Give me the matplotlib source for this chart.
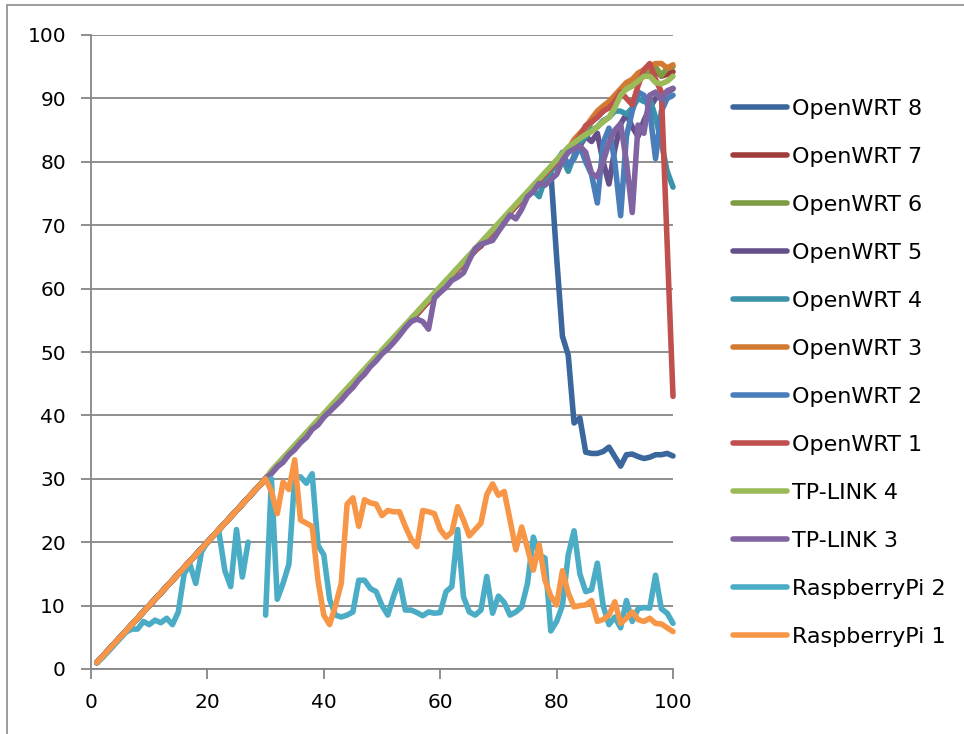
import numpy as np
import matplotlib
matplotlib.use("Agg")
import matplotlib.pyplot as plt
from matplotlib.lines import Line2D
from matplotlib.patches import Rectangle

plt.rcParams['font.family'] = ['DejaVu Sans']

x = list(range(1, 101))

openwrt8 = [1, 2, 3, 4, 5, 6, 7, 8, 9, 10,
            11, 12, 13, 14, 15, 16, 17, 18, 19, 20,
            21, 22, 23, 24, 25, 26, 27, 28, 29, 30,
            31, 32, 33, 34, 35, 36, 37, 38, 39, 40,
            41, 42, 43, 44, 45, 46, 47, 48, 49, 50,
            51, 52, 53, 54, 55, 56, 57, 58, 59, 60,
            61, 62, 63, 64, 65, 66, 67, 68, 69, 70,
            71, 72, 73, 74, 75, 76, 77, 78, 78.5, 65,
            52.5, 49.5, 38.8, 39.6, 34.2, 34, 34, 34.3, 35, 33.5,
            32, 33.8, 33.9, 33.5, 33.2, 33.4, 33.8, 33.8, 34, 33.6]

openwrt7 = [1, 2, 3, 4, 5, 6, 7, 8, 9, 10,
            11, 12, 13, 14, 15, 16, 17, 18, 19, 20,
            21, 22, 23, 24, 25, 26, 27, 28, 29, 30,
            31, 32, 33, 34, 35, 36, 37, 38, 39, 40,
            41, 42, 43, 44, 44.6, 46, 47, 48, 49, 50,
            51, 52, 53, 54, 55, 56, 57, 58, 59, 60,
            61, 62, 63, 64, 65, 66, 66.7, 68, 69, 70,
            71, 72, 73, 74, 75, 76, 77, 78, 79, 80,
            81, 82, 83, 84, 85, 86.3, 87.2, 88, 89, 90,
            91, 91.5, 92, 93, 93.5, 94, 94.5, 93.5, 93.8, 94.2]

openwrt6 = [1, 2, 3, 4, 5, 6, 7, 8, 9, 10,
            11, 12, 13, 14, 15, 16, 17, 18, 19, 20,
            21, 22, 23, 24, 25, 26, 27, 28, 29, 30,
            31, 32, 33, 34, 35, 36, 37, 38, 39, 40,
            41, 42, 43, 44, 45, 46, 47, 48, 49, 50,
            51, 52, 53, 54, 55, 56, 57, 58, 59, 60,
            61, 62, 63, 64, 65, 66, 67, 68, 69, 70,
            71, 72, 73, 74, 75, 76, 77, 78, 79, 80,
            81, 82, 83, 84, 85, 86.3, 87.2, 88, 89, 90.2,
            91.2, 92, 92.5, 93.5, 94, 94.6, 95, 93.6, 94.8, 95]

openwrt5 = [1, 2, 3, 4, 5, 6, 7, 8, 9, 10,
            11, 12, 13, 14, 15, 16, 17, 18, 19, 20,
            21, 22, 23, 24, 25, 26, 27, 28, 29, 30,
            31, 32, 33, 34, 35, 36, 37, 38, 39, 40,
            41, 42, 43, 44, 45, 46, 47, 48, 49, 50,
            51, 52, 53, 54, 55, 56, 57, 58, 59, 60,
            61, 62, 63, 64, 65, 66, 67, 68, 69, 70,
            71, 72, 73, 74, 75, 76, 77, 78, 79, 80,
            81, 82, 82.2, 82.5, 84, 83.2, 84.5, 80, 76.5, 82,
            86, 87.5, 85.5, 84, 86.5, 88.5, 90, 90.5, 91, 91.5]

openwrt4 = [1, 2, 3, 4, 5, 6, 7, 8, 9, 10,
            11, 12, 13, 14, 15, 16, 17, 18, 19, 20,
            21, 22, 23, 24, 25, 26, 27, 28, 29, 30,
            31, 32, 33, 34, 35, 36, 37, 38, 39, 40,
            41, 42, 43, 44, 45, 46, 47, 48, 49, 50,
            51, 52, 53, 54, 55, 56, 57, 58, 59, 60,
            61, 62, 63, 64, 65, 66, 67, 68, 69, 70,
            71, 72, 73, 74, 75, 75.5, 74.5, 77.3, 78.5, 79.5,
            80.5, 78.5, 81, 83, 84, 85, 85.5, 86.5, 87, 88,
            88, 87.5, 88.5, 90, 89.5, 90, 87, 83, 78.5, 76]

openwrt3 = [1, 2, 3, 4, 5, 6, 7, 8, 9, 10,
            11, 12, 13, 14, 15, 16, 17, 18, 19, 20,
            21, 22, 23, 24, 25, 26, 27, 28, 29, 30,
            31, 32, 33, 34, 35, 36, 37, 38, 39, 40,
            41, 42, 43, 44, 45, 46, 47, 48, 49, 50,
            51, 52, 53, 54, 55, 56, 57, 58, 59, 60,
            61, 62, 63, 64, 65, 66, 67, 68, 69, 70,
            71, 72, 73, 74, 75, 76, 77, 78, 79, 80,
            81, 82, 83.5, 84.5, 85.5, 86.8, 88, 88.8, 89.5, 90.5,
            91.5, 92.5, 93, 94, 94.5, 95, 95.5, 95.5, 94.8, 95.3]

openwrt2 = [1, 2, 3, 4, 5, 6, 7, 8, 9, 10,
            11, 12, 13, 14, 15, 16, 17, 18, 19, 20,
            21, 22, 23, 24, 25, 26, 27, 28, 29, 30,
            31, 32, 33, 34, 35, 36, 37, 38, 39, 40,
            41, 42, 43, 44, 45, 46, 47, 48, 49, 50,
            51, 52, 53, 54, 55, 56, 57, 58, 59, 60,
            61, 62, 63, 64, 65, 66, 67, 68, 69, 70,
            71, 72, 73, 74, 75, 76, 77, 78, 79, 80,
            81.5, 79.5, 80.5, 82.5, 80, 78, 73.5, 83, 85.3, 80,
            71.5, 84, 88, 91, 90.5, 88, 80.5, 88, 90, 90.5]

openwrt1 = [1, 2, 3, 4, 5, 6, 7, 8, 9, 10,
            11, 12, 13, 14, 15, 16, 17, 18, 19, 20,
            21, 22, 23, 24, 25, 26, 27, 28, 29, 30,
            31, 32, 33, 34, 35, 36, 37, 38, 39, 40,
            41, 42, 43, 44, 44.5, 46, 47, 48, 49, 50,
            51, 52, 53, 54, 55, 56, 57, 58, 59, 60,
            61, 62, 63, 64, 65, 66, 67, 68, 69, 70,
            71, 72, 73, 74, 75, 76, 77, 78, 79, 80,
            81, 82, 83, 84, 85.7, 86.3, 87, 88, 88.5, 89.5,
            91, 90, 89, 92, 94.5, 95.5, 93, 91, 67, 43]

tplink4 = [1, 2, 3, 4, 5, 6, 7, 8, 9, 10,
           11, 12, 13, 14, 15, 16, 17, 18, 19, 20,
           21, 22, 23, 24, 25, 26, 27, 28, 29, 30,
           31.3, 32.3, 33.3, 34.3, 35.3, 36.3, 37.3, 38.3, 39.3, 40.3,
           41.3, 42.3, 43.3, 44.3, 45.3, 46.3, 47.3, 48.3, 49.3, 50.3,
           51.3, 52.3, 53.3, 54.3, 55.3, 56.3, 57.3, 58.3, 59.3, 60.3,
           61.3, 62.3, 63.3, 64.3, 65.3, 66.3, 67.3, 68.3, 69.3, 70.3,
           71.3, 72.3, 73.3, 74.3, 75.3, 76.3, 77.3, 78.3, 79.3, 80.3,
           81.3, 82.3, 83, 83.7, 84.3, 84.8, 85.5, 86.3, 87, 88.5,
           90.5, 91.5, 92, 92.7, 93.5, 93.5, 92.5, 92.3, 92.7, 93.5]

tplink3 = [1, 2, 3, 4, 5, 6, 7, 8, 9, 10,
           11, 12, 13, 14, 15, 16, 17, 18, 19, 20,
           21, 22, 23, 24, 25, 26, 27, 28, 29, 30,
           30.8, 31.9, 32.6, 33.8, 34.6, 35.7, 36.5, 37.8, 38.5, 39.7,
           40.6, 41.5, 42.4, 43.5, 44.4, 45.6, 46.5, 47.7, 48.6, 49.7,
           50.5, 51.5, 52.6, 53.8, 54.8, 55.2, 54.8, 53.6, 58.5, 59.4,
           60.2, 61.3, 61.8, 62.5, 64.5, 66.3, 67, 67.3, 67.6, 69,
           70.3, 71.6, 71, 72.5, 74.5, 75.3, 76.6, 76.3, 77.2, 78,
           80.2, 81.5, 82, 82.5, 81.5, 78.2, 77.6, 80, 83, 85,
           86, 80, 72, 85.8, 84.5, 90.5, 91, 89.8, 91.2, 91.6]

nan = float('nan')
raspberry2 = [1, 1.8, 2.8, 3.8, 4.8, 5.8, 6.3, 6.3, 7.5, 7,
              7.7, 7.3, 8, 7, 9, 15, 16.5, 13.5, 18.5, 20,
              21, 21.5, 15.5, 13, 22, 14.5, 20, nan, nan, 8.5,
              30, 11, 13.5, 16.5, 30.3, 30.3, 29.3, 30.8, 19.5, 18,
              11, 8.5, 8.2, 8.5, 9, 14, 14, 12.7, 12.2, 10,
              8.5, 11.5, 14, 9.3, 9.3, 8.9, 8.4, 9, 8.8, 8.9,
              12.2, 13, 22, 11.4, 9, 8.5, 9.3, 14.6, 8.8, 11.5,
              10.5, 8.5, 9, 9.8, 13.5, 20.8, 18, 17.5, 6, 7.5,
              10, 18, 21.8, 15, 12.2, 12.5, 16.7, 10, 7, 8.2,
              6.5, 10.8, 7.5, 9.5, 9.7, 9.6, 14.8, 9.5, 8.8, 7.2]

raspberry1 = [1, 2, 3, 4, 5, 6, 7, 8, 9, 10,
              11, 12, 13, 14, 15, 16, 17, 18, 19, 20,
              21, 22, 23, 24, 25, 26, 27, 28, 29, 30,
              28, 24.5, 29.5, 28.3, 33, 23.5, 23, 22.5, 14, 8.5,
              7, 10, 13.5, 26, 27, 22.5, 26.7, 26.2, 26, 24.2,
              25, 24.8, 24.8, 22.5, 20.5, 19.3, 25, 24.8, 24.5, 22,
              20.8, 21.6, 25.6, 23.5, 21, 22, 23, 27.5, 29.2, 27.4,
              28, 23.5, 18.8, 22.4, 19, 15.6, 19.6, 14, 11.5, 10.1,
              15.5, 12, 9.8, 10, 10.1, 10.8, 7.5, 7.8, 8.5, 10.6,
              7.2, 8, 9, 7.8, 7.5, 8, 7.2, 7.1, 6.5, 5.9]

# legend order (top to bottom)
labels = ["OpenWRT 8", "OpenWRT 7", "OpenWRT 6", "OpenWRT 5", "OpenWRT 4",
          "OpenWRT 3", "OpenWRT 2", "OpenWRT 1", "TP-LINK 4", "TP-LINK 3",
          "RaspberryPi 2", "RaspberryPi 1"]
series = [openwrt8, openwrt7, openwrt6, openwrt5, openwrt4, openwrt3,
          openwrt2, openwrt1, tplink4, tplink3, raspberry2, raspberry1]
colors = ["#3B679D", "#A03D3A", "#7E9C43", "#65508A", "#3A93A9", "#D27A32",
          "#4A7EBB", "#C0504D", "#9BBB59", "#8064A2", "#4BACC6", "#F79646"]

W, H = 964, 734
fig = plt.figure(figsize=(W / 100, H / 100), dpi=100)
fig.patch.set_facecolor("white")

# chart area frame
fig.add_artist(Rectangle((7 / W, -0.01), 1.0, 1 - 5 / H + 0.01,
                         transform=fig.transFigure, fill=False,
                         edgecolor="#8C8C8C", linewidth=1.2))

ax = fig.add_axes([91 / W, 1 - 669 / H, (673 - 91) / W, (669 - 35) / H])
ax.set_xlim(0, 100)
ax.set_ylim(0, 100)

grey = "#868686"
for s in ["top", "right"]:
    ax.spines[s].set_visible(False)
for s in ["left", "bottom"]:
    ax.spines[s].set_color(grey)
    ax.spines[s].set_linewidth(1.3)
ax.set_yticks(range(0, 101, 10))
ax.set_xticks(range(0, 101, 20))
ax.tick_params(axis="both", direction="out", length=7, width=1.3, color=grey,
               labelsize=14.5, labelcolor="black")
ax.tick_params(axis="y", pad=11)
ax.tick_params(axis="x", pad=10)
ax.yaxis.grid(True, color=grey, linewidth=1.3)
ax.set_axisbelow(True)

for k in range(12):
    ax.plot(x, series[k], color=colors[k], linewidth=4.0,
            solid_capstyle="round", solid_joinstyle="round",
            label=labels[k], zorder=3 + k * 0.1, clip_on=False)

leg_handles = [Line2D([0], [0], color=colors[k], linewidth=4.0,
                      solid_capstyle="round") for k in range(12)]
fig.legend(leg_handles, labels, loc="upper left",
           bbox_to_anchor=(733 / W, 1 - 99 / H), frameon=False,
           fontsize=16, handlelength=2.45, handletextpad=0.2,
           labelspacing=1.26, borderpad=0, borderaxespad=0)

fig.savefig("out.png", dpi=100)
